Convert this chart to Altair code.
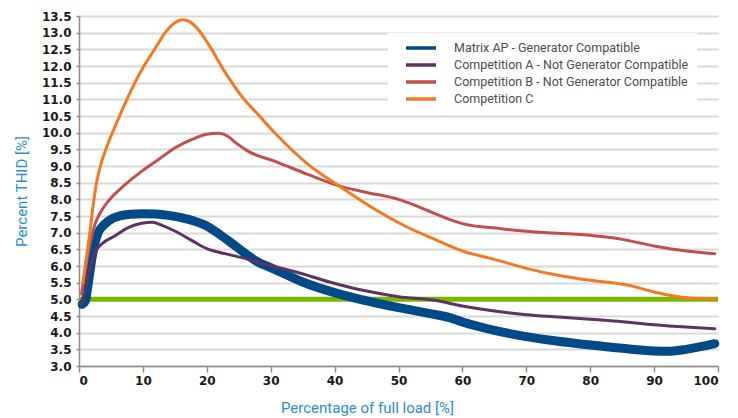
import altair as alt
import pandas as pd

series_names = [
    "Matrix AP - Generator Compatible",
    "Competition A - Not Generator Compatible",
    "Competition B - Not Generator Compatible",
    "Competition C",
]
series_colors = ["#004b87", "#5e3262", "#c0504d", "#f47a22"]

matrix_x = [0.5, 1, 1.5, 2, 2.5, 3, 4, 5, 6, 8, 10, 12, 14, 16, 18, 20, 22, 24, 26, 28, 30, 32, 35, 40, 44, 50, 55, 58, 60, 65, 70, 75, 80, 85, 90, 92, 95, 99.5]
matrix_y = [4.85, 4.95, 5.55, 6.2, 6.7, 7.0, 7.25, 7.4, 7.48, 7.55, 7.57, 7.56, 7.52, 7.45, 7.35, 7.2, 6.95, 6.67, 6.38, 6.12, 5.95, 5.78, 5.52, 5.2, 5.0, 4.75, 4.57, 4.45, 4.32, 4.07, 3.88, 3.74, 3.63, 3.53, 3.45, 3.44, 3.5, 3.67]

compA_x = [0.4, 1, 1.5, 2, 2.5, 3.5, 5.6, 7.7, 9.8, 11.5, 13, 15, 17.6, 20, 22.8, 25.5, 28.8, 34, 39.2, 44.4, 50, 55.7, 60, 65, 70, 75, 80, 85, 90, 95, 99.5]
compA_y = [4.86, 5.3, 5.76, 6.1, 6.4, 6.65, 6.9, 7.15, 7.28, 7.31, 7.22, 7.05, 6.77, 6.52, 6.37, 6.25, 6.07, 5.82, 5.52, 5.27, 5.08, 4.97, 4.8, 4.65, 4.54, 4.47, 4.4, 4.33, 4.24, 4.17, 4.12]

compB_x = [0.4, 1.5, 2.5, 3.5, 4.6, 7.2, 9.8, 12.4, 15, 17.6, 20.2, 21.8, 23.2, 24.5, 26.5, 30.7, 35.9, 41.1, 45.2, 50, 52.6, 55.7, 60, 66, 70, 80, 84.5, 90, 95, 99.5]
compB_y = [5.16, 6.45, 7.25, 7.65, 7.95, 8.44, 8.84, 9.19, 9.54, 9.79, 9.96, 9.98, 9.9, 9.7, 9.44, 9.14, 8.74, 8.38, 8.2, 8.0, 7.82, 7.57, 7.27, 7.12, 7.04, 6.92, 6.82, 6.6, 6.45, 6.37]

compC_x = [0.6, 1.2, 1.7, 2.2, 2.8, 3.5, 4.3, 6.2, 7.7, 9.8, 11.9, 13.5, 15, 16.2, 17.3, 18.5, 20.2, 22.8, 25.5, 28.1, 30.7, 35.9, 41.1, 46.3, 51, 55.7, 60, 65, 70, 75, 80, 86, 90, 93, 96, 99.5]
compC_y = [5.5, 6.3, 7.0, 7.8, 8.55, 9.1, 9.55, 10.43, 11.08, 11.88, 12.52, 13.0, 13.3, 13.39, 13.33, 13.13, 12.67, 11.83, 11.08, 10.53, 9.98, 9.04, 8.35, 7.7, 7.2, 6.8, 6.45, 6.2, 5.93, 5.72, 5.57, 5.42, 5.22, 5.1, 5.03, 5.0]

limit_x = [0, 100]
limit_y = [5.0, 5.0]

x_ticks = list(range(0, 101, 10))
y_ticks = [3.0 + 0.5 * i for i in range(22)]

rows = []
for name, xs, ys in zip(series_names,
                        [matrix_x, compA_x, compB_x, compC_x],
                        [matrix_y, compA_y, compB_y, compC_y]):
    for i, (xv, yv) in enumerate(zip(xs, ys)):
        rows.append({"series": name, "load": xv, "thid": yv, "order": i})
df = pd.DataFrame(rows)
limit_df = pd.DataFrame({"load": limit_x, "thid": limit_y})

x_enc = alt.X("load:Q", scale=alt.Scale(domain=[0, 100], nice=False),
              axis=alt.Axis(values=x_ticks, title="Percentage of full load [%]",
                            titleX=288, titleY=41, titleBaseline="middle", titleAlign="center"))
y_enc = alt.Y("thid:Q", scale=alt.Scale(domain=[3.0, 13.5], nice=False, zero=False),
              axis=alt.Axis(values=y_ticks, format=".1f", title="Percent THID [%]",
                            titleX=-58, titleY=175, titleAngle=270,
                            titleBaseline="middle", titleAlign="center"))

color_scale = alt.Scale(domain=series_names, range=series_colors)
legend = alt.Legend(orient="none", legendX=309, legendY=17, title=None,
                    fillColor="white", padding=8, symbolType="stroke",
                    symbolSize=900, symbolStrokeWidth=3.5, symbolOffset=8,
                    labelOffset=16, labelFont="Roboto", labelFontSize=12.5,
                    labelColor="#4d4d4d", clipHeight=14, rowPadding=3,
                    labelLimit=400)

limit = alt.Chart(limit_df).mark_line(color="#7ab800", strokeWidth=5).encode(
    x=x_enc, y=y_enc)

lines = []
for name, width in zip(series_names, [9, 3, 3, 3]):
    lines.append(
        alt.Chart(df[df["series"] == name]).mark_line(
            interpolate="monotone", strokeWidth=width, strokeCap="round").encode(
            x=x_enc, y=y_enc,
            color=alt.Color("series:N", scale=color_scale, legend=legend),
            order="order:Q")
    )

chart = alt.layer(limit, *lines).properties(
    width=639, height=350,
    autosize=alt.AutoSizeParams(type="none"),
    padding={"left": 71, "top": 8, "right": 12, "bottom": 52},
).configure_view(stroke=None).configure_axis(
    labelFont="DejaVu Sans", labelFontWeight="bold", labelFontSize=12,
    labelColor="#1a1a1a", domainColor="#8c8c8c", domainWidth=1.5,
    tickColor="#8c8c8c", tickWidth=1.5,
    titleFont="Roboto", titleFontWeight="normal", titleFontSize=15,
    titleColor="#2b8fd0",
).configure_axisX(
    grid=False, tickSize=6, labelPadding=3,
).configure_axisY(
    grid=True, gridColor="#d9d9d9", gridWidth=2, tickSize=3, labelPadding=5,
)

chart.save("out.html", embed_options={"renderer": "svg", "actions": False})
